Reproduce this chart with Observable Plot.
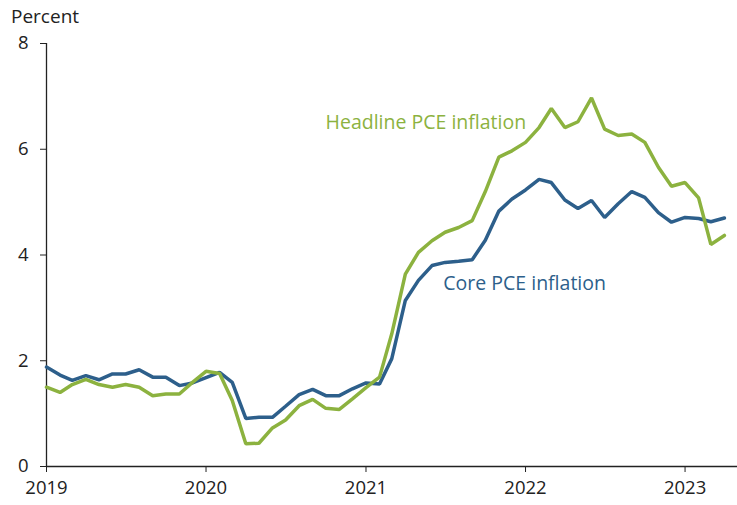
<!DOCTYPE html>
<html><head><meta charset="utf-8">
<script src="https://cdn.jsdelivr.net/npm/d3@7"></script>
<script src="https://cdn.jsdelivr.net/npm/@observablehq/plot@0.6"></script>
<style>
body{margin:0;background:#fff;font-family:"Open Sans",sans-serif}
#wrap{position:relative;width:737px;height:505px}
#t{position:absolute;left:11px;top:3px;font-size:19px;color:#222}
#wrap svg{position:absolute;left:0;top:0}
</style>
</head><body><div id="wrap"><div id="t">Percent</div></div>
<script>
const headline = [
  1.50, 1.40, 1.55, 1.65, 1.55, 1.50, 1.55, 1.50, 1.34, 1.37, 1.37, 1.59,
  1.80, 1.76, 1.25, 0.43, 0.44, 0.73, 0.88, 1.15, 1.27, 1.10, 1.08, 1.28,
  1.49, 1.69, 2.51, 3.64, 4.05, 4.27, 4.43, 4.52, 4.65, 5.20, 5.85, 5.97,
  6.13, 6.41, 6.77, 6.41, 6.52, 6.97, 6.38, 6.26, 6.29, 6.13, 5.66, 5.30,
  5.37, 5.08, 4.20, 4.37
];
const core = [
  1.88, 1.73, 1.63, 1.72, 1.64, 1.75, 1.75, 1.83, 1.69, 1.69, 1.53, 1.58,
  1.68, 1.78, 1.59, 0.91, 0.93, 0.93, 1.14, 1.36, 1.46, 1.34, 1.34, 1.47,
  1.58, 1.56, 2.04, 3.14, 3.52, 3.80, 3.86, 3.88, 3.91, 4.28, 4.83, 5.06,
  5.23, 5.43, 5.37, 5.04, 4.88, 5.03, 4.71, 4.97, 5.20, 5.09, 4.80, 4.62,
  4.71, 4.69, 4.63, 4.70
];
const yTicks = [0, 2, 4, 6, 8];
const xTickYears = [2019, 2020, 2021, 2022, 2023];
const seriesNames = ["Headline PCE inflation", "Core PCE inflation"];
const seriesColors = ["#8cb23f", "#2d5f8b"];
const labelDates = ["2021-05-18", "2021-12-30"];
const labelValues = [6.50, 3.46];

const months = headline.map((_, i) => new Date(Date.UTC(2019, i, 1)));
const rows = [];
months.forEach((d, i) => {
  rows.push({date: d, value: core[i], series: seriesNames[1]});
});
months.forEach((d, i) => {
  rows.push({date: d, value: headline[i], series: seriesNames[0]});
});
const labels = seriesNames.map((s, i) => ({date: new Date(labelDates[i]), value: labelValues[i], series: s}));
const xTicks = xTickYears.map(y => new Date(Date.UTC(y, 0, 1)));
const xDomain = [new Date(Date.UTC(2019, 0, 1)), new Date(Date.UTC(2023, 4, 1))];

const chart = Plot.plot({
  width: 737,
  height: 505,
  marginTop: 43,
  marginBottom: 39,
  marginLeft: 46,
  marginRight: 0,
  style: {fontFamily: "'Open Sans', sans-serif", fontSize: "18.5px", color: "#222", background: "transparent"},
  x: {type: "utc", domain: xDomain},
  y: {domain: [0, 8]},
  color: {domain: seriesNames, range: seriesColors},
  marks: [
    Plot.axisX({ticks: xTicks, tickFormat: d3.utcFormat("%Y"), tickSize: 6, tickPadding: 8, label: null, stroke: "#222", fill: "#222"}),
    Plot.axisY({ticks: yTicks, tickSize: 6, tickPadding: 12, label: null, stroke: "#222", fill: "#222"}),
    Plot.ruleY([0], {stroke: "#222", strokeWidth: 1.3}),
    Plot.ruleX([xDomain[0]], {stroke: "#222", strokeWidth: 1.3}),
    Plot.line(rows, {x: "date", y: "value", z: "series", stroke: "series", strokeWidth: 3.5, strokeLinejoin: "miter", curve: "linear"}),
    Plot.text(labels, {x: "date", y: "value", text: "series", fill: "series", fontSize: 19.5, textAnchor: "middle"})
  ]
});
document.getElementById("wrap").appendChild(chart);
</script>
</body></html>
